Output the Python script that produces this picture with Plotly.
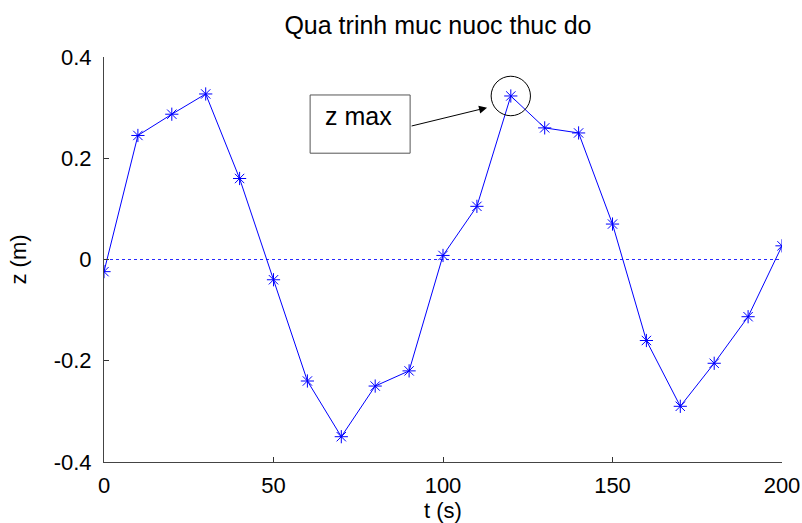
import plotly.graph_objects as go

t = [0, 10, 20, 30, 40, 50, 60, 70, 80, 90, 100, 110, 120, 130, 140, 150, 160, 170, 180, 190, 200]
z = [-0.024, 0.245, 0.287, 0.327, 0.160, -0.040, -0.240, -0.350, -0.250, -0.220, 0.008,
     0.105, 0.323, 0.260, 0.250, 0.070, -0.160, -0.290, -0.205, -0.113, 0.027]
x_ticks = [0, 50, 100, 150, 200]
y_ticks = [-0.4, -0.2, 0, 0.2, 0.4]
y_tick_labels = ["-0.4", "-0.2", "0", "0.2", "0.4"]
peak_index = 12

font = "Liberation Sans, Arial, sans-serif"
fig = go.Figure()
fig.add_trace(go.Scatter(x=[t[0], t[-1]], y=[0, 0], mode="lines",
                         line=dict(color="#2a2aff", width=1, dash="dot"),
                         hoverinfo="skip", showlegend=False))
fig.add_trace(go.Scatter(x=t, y=z, mode="lines+markers",
                         line=dict(color="#0000ff", width=1),
                         marker=dict(symbol="asterisk-open", size=11,
                                     line=dict(color="#0000ff", width=1)),
                         showlegend=False))

# peak circle
fig.add_shape(type="circle", xref="x", yref="y",
              x0=t[peak_index] - 5.8, x1=t[peak_index] + 5.8,
              y0=z[peak_index] - 0.039, y1=z[peak_index] + 0.039,
              line=dict(color="black", width=1))
# label box
fig.add_shape(type="rect", xref="x", yref="y", x0=60.8, x1=90.3, y0=0.21, y1=0.325,
              line=dict(color="#555555", width=1), fillcolor="white")
fig.add_annotation(x=64.5, y=0.283, xref="x", yref="y", text="z max", showarrow=False,
                   xanchor="left", font=dict(family=font, size=25, color="black"))
fig.add_annotation(x=113, y=0.3, ax=90.3, ay=0.263, xref="x", yref="y",
                   axref="x", ayref="y", text="", showarrow=True,
                   arrowhead=2, arrowsize=1.6, arrowwidth=1, arrowcolor="black")

fig.update_layout(
    width=802, height=523,
    margin=dict(l=104, r=20, t=57, b=61),
    paper_bgcolor="white", plot_bgcolor="white",
    font=dict(family=font, size=22, color="black"),
    title=dict(text="Qua trinh muc nuoc thuc do", x=0.4926, xanchor="center",
               xref="paper", y=0.952, yanchor="middle", font=dict(size=25)),
)
fig.update_xaxes(range=[0, 200], tickvals=x_ticks, ticks="inside", ticklen=5,
                 tickcolor="#333", showline=True, linecolor="#444", linewidth=1,
                 showgrid=False, zeroline=False, mirror=False, ticklabelstandoff=4,
                 automargin=False,
                 title=dict(text="t (s)", standoff=5, font=dict(size=22)))
fig.update_yaxes(range=[-0.4, 0.4], tickvals=y_ticks, ticktext=y_tick_labels,
                 ticks="inside", ticklen=5, tickcolor="#333",
                 showline=True, linecolor="#444", linewidth=1, ticklabelstandoff=7,
                 showgrid=False, zeroline=False, automargin=False,
                 title=dict(text="z (m)", standoff=20, font=dict(size=22)))

fig.write_html("out.html", config={"displayModeBar": False},
               post_script="document.body.style.margin='0';document.body.style.padding='0';")
